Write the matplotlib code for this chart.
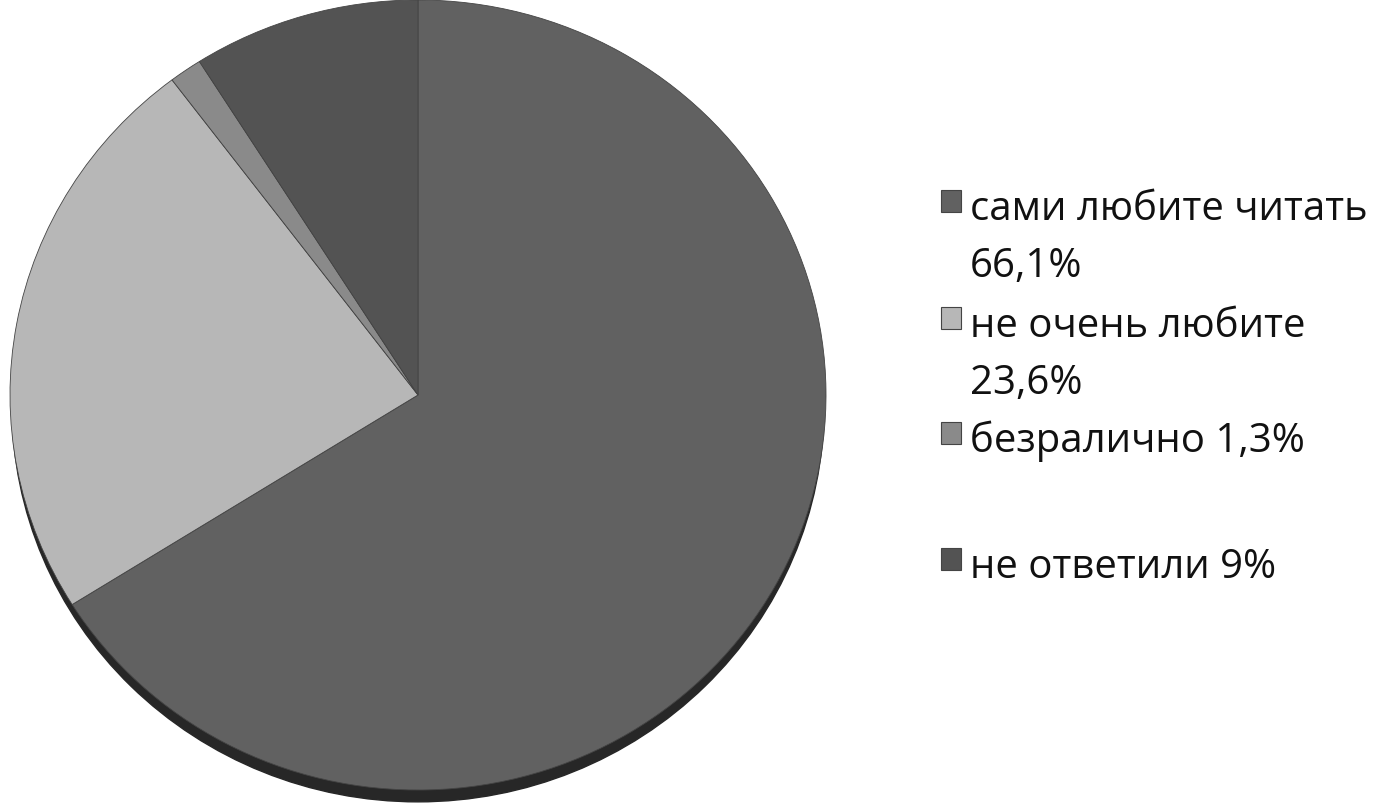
import matplotlib
matplotlib.use('Agg')
from matplotlib import pyplot as plt
from matplotlib.patches import Ellipse, Rectangle

plt.rcParams['font.family'] = ['Open Sans', 'DejaVu Sans']

# данные диаграммы
categories = ['сами любите читать', 'не очень любите', 'безралично', 'не ответили']
shares = [66.1, 23.6, 1.3, 9.0]
legend_lines = [
    ['сами любите читать', '66,1%'],
    ['не очень любите', '23,6%'],
    ['безралично 1,3%'],
    ['не ответили 9%'],
]
colors = ['#616161', '#b7b7b7', '#8a8a8a', '#535353']

W, H = 1392, 806
fig = plt.figure(figsize=(W / 100, H / 100), dpi=100)

# круг рисуем в отдельной оси, растянутой в эллипс
ax = fig.add_axes([10 / W, 1 - 790 / H, 816 / W, 790 / H])
ax.add_patch(Ellipse((0, -0.03), 1.99, 2, color='#272727', zorder=0, clip_on=False))
wedges, _ = ax.pie(shares, colors=colors, startangle=90, counterclock=False,
                   wedgeprops={'edgecolor': '#444444', 'linewidth': 0.6})
for w in wedges:
    w.set_clip_on(False)
ax.set_aspect('auto')
ax.set_xlim(-1, 1)
ax.set_ylim(-1, 1)
ax.axis('off')

# легенда вручную: маркер у первой строки каждой записи
baselines = [220, 337, 452, 578]
line_step = 57
for lines, color, y0 in zip(legend_lines, colors, baselines):
    fig.add_artist(Rectangle((941 / W, 1 - (y0 - 8) / H), 20 / W, 22 / H,
                             facecolor=color, edgecolor='#444444', linewidth=0.8,
                             transform=fig.transFigure))
    for i, line in enumerate(lines):
        fig.text(970 / W, 1 - (y0 + i * line_step) / H, line, fontsize=28.9,
                 color='#111111', va='baseline', ha='left')

fig.savefig('out.png', dpi=100)
